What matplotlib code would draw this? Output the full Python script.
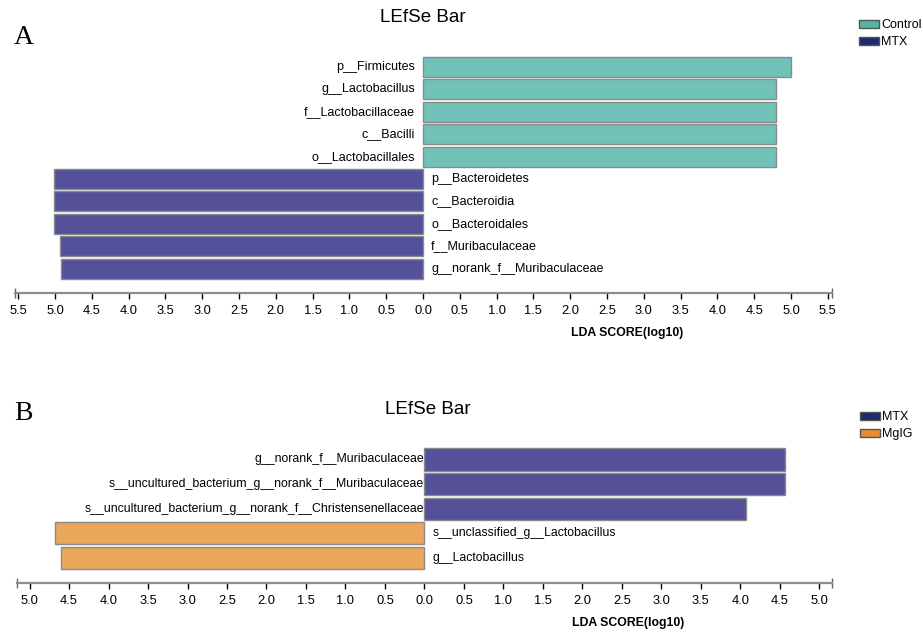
"""LEfSe bar charts: Control vs MTX (A) and MTX vs MgIG (B)."""

import matplotlib
matplotlib.use("Agg")
import matplotlib.pyplot as plt
from matplotlib.patches import Patch
from matplotlib.ticker import FuncFormatter

# panel A
taxa_a = [
    "p__Firmicutes",
    "g__Lactobacillus",
    "f__Lactobacillaceae",
    "c__Bacilli",
    "o__Lactobacillales",
    "p__Bacteroidetes",
    "c__Bacteroidia",
    "o__Bacteroidales",
    "f__Muribaculaceae",
    "g__norank_f__Muribaculaceae",
]
lda_a = [5.00, 4.80, 4.80, 4.80, 4.80, 5.02, 5.02, 5.02, 4.93, 4.92]
group_a = ["Control"] * 5 + ["MTX"] * 5
groups_a = ["Control", "MTX"]
ticks_a = [x * 0.5 for x in range(-11, 12)]

# panel B
taxa_b = [
    "g__norank_f__Muribaculaceae",
    "s__uncultured_bacterium_g__norank_f__Muribaculaceae",
    "s__uncultured_bacterium_g__norank_f__Christensenellaceae",
    "s__unclassified_g__Lactobacillus",
    "g__Lactobacillus",
]
lda_b = [4.57, 4.56, 4.07, 4.68, 4.60]
group_b = ["MTX", "MTX", "MTX", "MgIG", "MgIG"]
groups_b = ["MTX", "MgIG"]
ticks_b = [x * 0.5 for x in range(-10, 11)]

BAR_COLORS = {"Control": "#70c1b8", "MTX": "#55509a", "MgIG": "#eaa65b"}
LEGEND_COLORS = {"Control": "#52b5a7", "MTX": "#1f2b6e", "MgIG": "#ea8b32"}

W, H = 923, 635
plt.rcParams["font.family"] = ["Liberation Sans", "DejaVu Sans"]


def px_axes(fig, left, right, top, bottom):
    return fig.add_axes([left / W, 1 - bottom / H, (right - left) / W, (bottom - top) / H])


def lefse_panel(ax, taxa, scores, groups, order, ticks, xlim, ylim, gap_pos, gap_neg, fs):
    signed = [s if g == order[0] else -s for s, g in zip(scores, groups)]
    rows = list(range(len(taxa)))
    ax.barh(rows, signed, height=0.9,
            color=[BAR_COLORS[g] for g in groups],
            edgecolor="#8a8a8a", linewidth=1.0)
    for r, name, v in zip(rows, taxa, signed):
        if v > 0:
            ax.text(-gap_pos, r, name, ha="right", va="center", fontsize=fs)
        else:
            ax.text(gap_neg, r, name, ha="left", va="center", fontsize=fs)
    ax.set_xlim(*xlim)
    ax.set_ylim(*ylim)
    ax.set_yticks([])
    for side in ("left", "top", "right"):
        ax.spines[side].set_visible(False)
    ax.spines["bottom"].set_color("#8c8c8c")
    ax.spines["bottom"].set_linewidth(1.6)
    ax.set_xticks(ticks)
    ax.xaxis.set_major_formatter(FuncFormatter(lambda v, p: f"{abs(v):.1f}"))
    ax.tick_params(axis="x", length=4, width=1, color="black", pad=5, labelsize=9.3)
    ax.set_xticks(list(xlim), minor=True)
    ax.tick_params(axis="x", which="minor", direction="inout", length=7, width=1, color="#666666")
    ax.set_facecolor("none")


fig = plt.figure(figsize=(W / 100, H / 100), dpi=100)

# A
ax_a = px_axes(fig, 14.5, 831.5, 50, 293)
lefse_panel(ax_a, taxa_a, lda_a, group_a, groups_a, ticks_a,
            (-5.55, 5.55), (10.09, -0.76), 0.11, 0.11, 9)
fig.text(423 / W, 1 - 17 / H, "LEfSe Bar", ha="center", va="center", fontsize=13.5)
fig.text(627 / W, 1 - 333 / H, "LDA SCORE(log10)", ha="center", va="center",
         fontsize=8.8, fontweight="bold")
fig.text(14 / W, 1 - 38 / H, "A", ha="left", va="center", fontsize=20,
         family="Liberation Serif")
fig.legend(handles=[Patch(facecolor=LEGEND_COLORS[g], edgecolor="#555555", label=g) for g in groups_a],
           loc="upper left", bbox_to_anchor=(859 / W, 1 - 19 / H), frameon=False,
           fontsize=9, handlelength=1.6, handleheight=0.6, handletextpad=0.15,
           labelspacing=0.4, borderpad=0, borderaxespad=0)

# B
ax_b = px_axes(fig, 16.9, 832, 440, 583)
lefse_panel(ax_b, taxa_b, lda_b, group_b, groups_b, ticks_b,
            (-5.16, 5.16), (5.02, -0.79), 0.01, 0.1, 8.8)
fig.text(428 / W, 1 - 409 / H, "LEfSe Bar", ha="center", va="center", fontsize=13.5)
fig.text(628 / W, 1 - 623 / H, "LDA SCORE(log10)", ha="center", va="center",
         fontsize=8.8, fontweight="bold")
fig.text(14 / W, 1 - 414 / H, "B", ha="left", va="center", fontsize=20,
         family="Liberation Serif")
fig.legend(handles=[Patch(facecolor=LEGEND_COLORS[g], edgecolor="#555555", label=g) for g in groups_b],
           loc="upper left", bbox_to_anchor=(860 / W, 1 - 411 / H), frameon=False,
           fontsize=9, handlelength=1.6, handleheight=0.6, handletextpad=0.15,
           labelspacing=0.4, borderpad=0, borderaxespad=0)

fig.savefig("out.png", dpi=100)
